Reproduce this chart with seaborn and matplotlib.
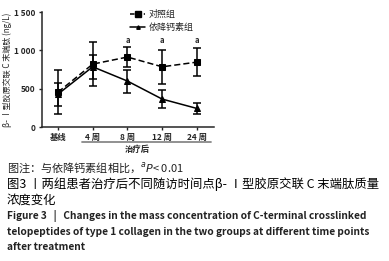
import matplotlib
matplotlib.use("Agg")
import matplotlib.pyplot as plt
import seaborn as sns
import pandas as pd
import numpy as np
from matplotlib.lines import Line2D

categories = ["基线", "4 周", "8 周", "12 周", "24 周"]
control_mean = [455, 821, 913, 786, 847]
control_sd = [285, 290, 135, 225, 180]
drug_mean = [430, 786, 600, 365, 243]
drug_sd = [150, 160, 150, 120, 70]
sig_labels = ["", "", "a", "a", "a"]
series_names = ["对照组", "依降钙素组"]

sns.set_theme(style="ticks")
plt.rcParams['font.family'] = ['Noto Sans CJK SC', 'DejaVu Sans']

fig = plt.figure(figsize=(3.89, 2.61), dpi=100)
ax = fig.add_axes([0.108, 0.513, 0.442, 0.441])

x = np.arange(len(categories))
df = pd.DataFrame({
    "x": np.concatenate([x, x]),
    "y": control_mean + drug_mean,
    "group": [series_names[0]] * len(x) + [series_names[1]] * len(x),
})
sns.lineplot(data=df, x="x", y="y", hue="group", style="group",
             palette=["black", "black"], markers=["s", "^"],
             dashes=[(4, 2), ""], markersize=4, linewidth=1.1,
             markeredgecolor="black", ax=ax, legend=False)
ax.errorbar(x, control_mean, yerr=control_sd, fmt="none", ecolor="black",
            elinewidth=1.1, capsize=3, capthick=1.1)
ax.errorbar(x, drug_mean, yerr=drug_sd, fmt="none", ecolor="black",
            elinewidth=1.1, capsize=3, capthick=1.1)

for xi, lab in zip(x, sig_labels):
    if lab:
        ax.text(xi, 1075, lab, ha="center", va="bottom", fontsize=5.5,
                fontweight="bold")

handles = [Line2D([], [], color="black", ls=(0, (3, 1.5)), marker="s", markersize=4, lw=1.1),
           Line2D([], [], color="black", ls="-", marker="^", markersize=2.5, lw=1.1)]
ax.legend(handles, series_names, loc="upper left", bbox_to_anchor=(0.49, 1.05),
          frameon=False, fontsize=6.5, handlelength=1.7, handletextpad=0.4,
          labelspacing=0.45, borderaxespad=0)

ax.set_xlim(-0.46, 4.49)
ax.set_ylim(0, 1500)
ax.set_xticks(x)
ax.set_xticklabels(categories, fontsize=6, fontweight="bold")
ax.set_yticks([0, 500, 1000, 1500])
ax.set_yticklabels(["0", "500", "1 000", "1 500"], fontsize=6, fontweight="bold")
ax.tick_params(length=2.5, width=1, pad=2)
for sp in ["left", "bottom"]:
    ax.spines[sp].set_linewidth(1.1)
sns.despine(ax=ax)
ax.set_xlabel("")
ax.set_ylabel("β- Ⅰ型胶原交联 C 末端肽 (ng/L)", fontsize=5.8, labelpad=2)

# bracket line under treatment period
fig.add_artist(Line2D([82/389, 211/389], [1-142/261, 1-142/261], color="#888888", lw=1.3))
fig.text(137/389, 1-149/261, "治疗后", ha="center", va="center", fontsize=6, fontweight="bold")

fig.text(7/389, 1-168/261, "图注：与依降钙素组相比，$^{a}$$\\it{P}$< 0.01", fontsize=8,
         va="center", color="#222222")
fig.text(7/389, 1-184/261, "图3 丨两组患者治疗后不同随访时间点β- Ⅰ型胶原交联 C 末端肽质量",
         fontsize=8.9, va="center", color="black")
fig.text(7/389, 1-200/261, "浓度变化", fontsize=8.9, va="center", color="black")
fig.text(7/389, 1-216/261, "Figure 3   |   Changes in the mass concentration of C-terminal crosslinked",
         fontsize=7.3, va="center", fontweight="bold", color="#222222")
fig.text(7/389, 1-232/261, "telopeptides of type 1 collagen in the two groups at different time points",
         fontsize=7.3, va="center", fontweight="bold", color="#222222")
fig.text(7/389, 1-247/261, "after treatment", fontsize=7.3, va="center", fontweight="bold", color="#222222")

fig.savefig("out.png", dpi=100)
